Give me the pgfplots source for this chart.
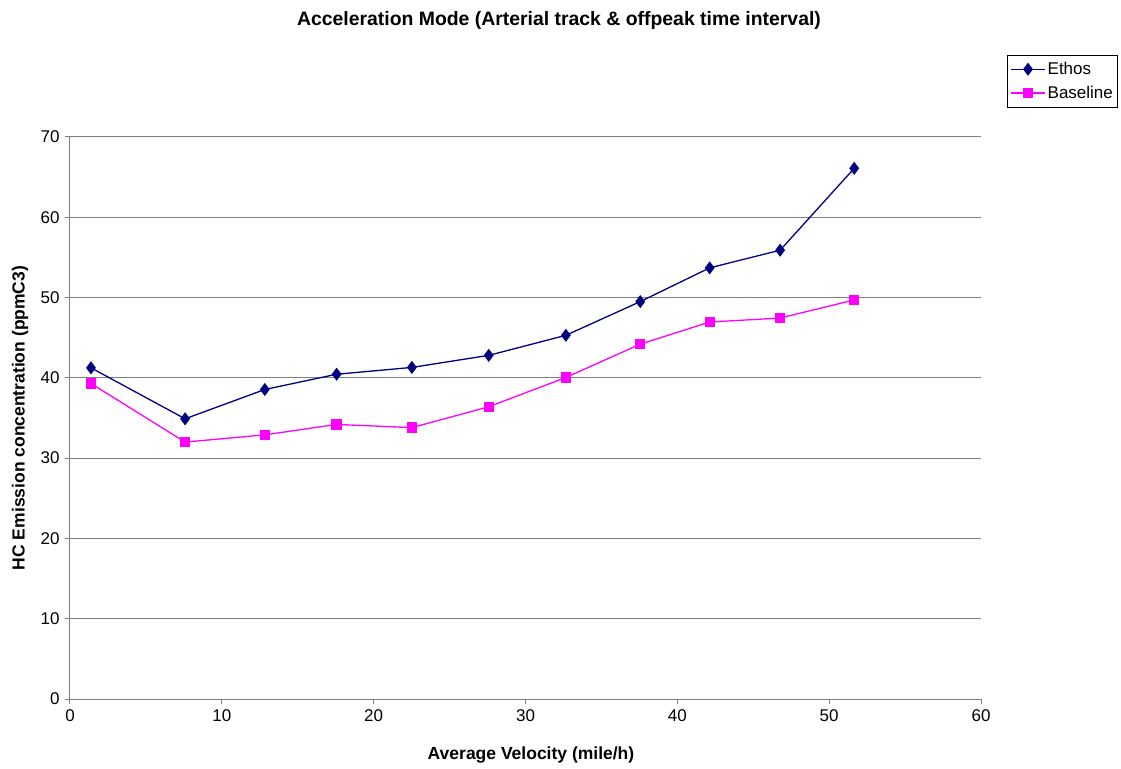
\documentclass[border=0pt]{standalone}
\usepackage{pgfplots}
\pgfplotsset{compat=1.18}
\usepackage{fontspec}
\setmainfont{Liberation Sans}
\definecolor{ethos}{HTML}{000080}
\definecolor{base}{HTML}{FF00FF}
\definecolor{gridgray}{HTML}{808080}
\begin{document}
\begin{tikzpicture}[x=1pt,y=1pt]
\useasboundingbox (-70,-69) rectangle (1051,699);
\begin{axis}[
  at={(0,0)}, anchor=south west,
  scale only axis, width=911pt, height=562pt,
  xmin=0, xmax=60, ymin=0, ymax=70,
  xtick={0,10,...,60}, ytick={0,10,...,70},
  axis x line=bottom, axis y line=left,
  axis line style={gridgray, line width=1pt, -},
  tick style={gridgray, line width=1pt},
  tick align=outside, major tick length=5pt,
  ymajorgrids, grid style={gridgray, line width=1pt},
  /pgf/number format/assume math mode=true,
  ticklabel style={font=\fontsize{17}{20}\selectfont},
  xticklabel style={yshift=-2pt},
  yticklabel style={xshift=-2pt},
  clip=false,
  legend style={at={(rel axis cs:1.0285,1.146)}, anchor=north west,
    draw=black, line width=0.8pt, font=\fontsize{17}{20}\selectfont,
    row sep=6pt, inner xsep=3pt, inner ysep=5pt,
    /tikz/every even column/.append style={column sep=4pt}},
  legend cell align=left,
  legend image code/.code={%
    \draw[mark repeat=2, mark phase=2] plot coordinates {(0pt,0pt) (17pt,0pt) (34pt,0pt)};},
]
\addplot[ethos, line width=1.3pt, mark=diamond*, mark size=5.5pt, mark options={solid, fill=ethos}]
  coordinates {(1.38,41.25) (7.58,34.9) (12.83,38.55) (17.56,40.45) (22.52,41.3)
   (27.58,42.8) (32.66,45.3) (37.56,49.5) (42.13,53.7) (46.77,55.9) (51.65,66.1)};
\addlegendentry{Ethos}
\addplot[base, line width=1.3pt, mark=square*, mark size=4.5pt, mark options={solid, fill=base}]
  coordinates {(1.38,39.3) (7.58,32.0) (12.83,32.9) (17.56,34.2) (22.52,33.8)
   (27.58,36.4) (32.66,40.05) (37.56,44.2) (42.13,46.95) (46.77,47.45) (51.65,49.7)};
\addlegendentry{Baseline}
\end{axis}
\node[font=\bfseries\fontsize{19.4}{22}\selectfont] at (489,679) {Acceleration Mode (Arterial track \& offpeak time interval)};
\node[font=\bfseries\fontsize{17.5}{20}\selectfont] at (461,-56) {Average Velocity (mile/h)};
\node[font=\bfseries\fontsize{17.5}{20}\selectfont, rotate=90] at (-50,281) {HC Emission concentration (ppmC3)};
\end{tikzpicture}
\end{document}
